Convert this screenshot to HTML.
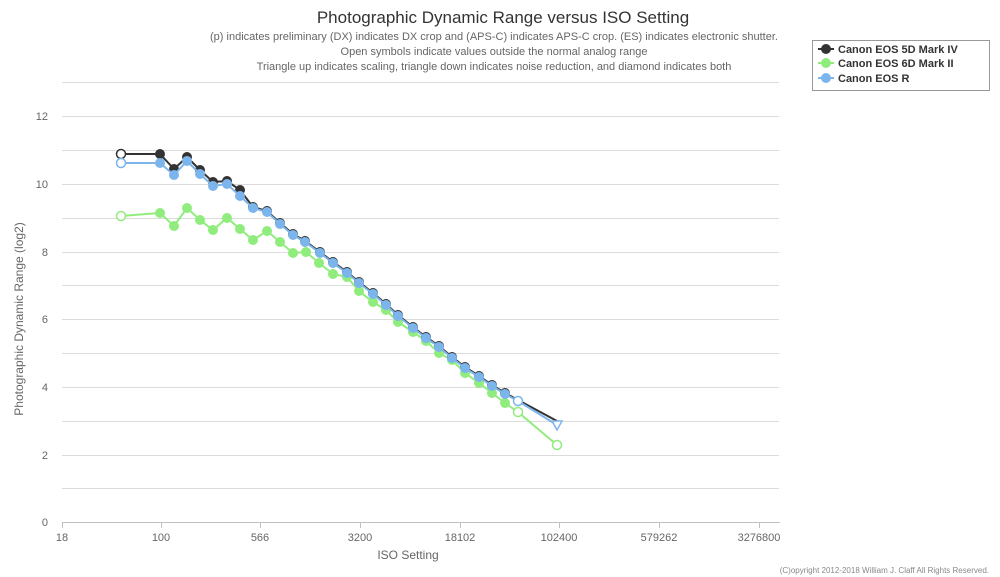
<!DOCTYPE html>
<html><head><meta charset="utf-8"><style>
html,body{margin:0;padding:0;background:#fff}
svg{display:block;font-family:"Liberation Sans Narrow","Liberation Sans",sans-serif}
</style></head><body>
<svg width="1000" height="577" viewBox="0 0 1000 577" xmlns="http://www.w3.org/2000/svg">
<text x="503" y="23" font-size="17" text-anchor="middle" fill="#333">Photographic Dynamic Range versus ISO Setting</text>
<g font-size="11" fill="#666" text-anchor="middle">
<text x="494" y="40">(p) indicates preliminary (DX) indicates DX crop and (APS-C) indicates APS-C crop. (ES) indicates electronic shutter.</text>
<text x="494" y="55">Open symbols indicate values outside the normal analog range</text>
<text x="494" y="70">Triangle up indicates scaling, triangle down indicates noise reduction, and diamond indicates both</text>
</g>
<g stroke="#dcdcdc" stroke-width="1">
<line x1="62" y1="82.5" x2="779" y2="82.5"/>
<line x1="62" y1="116.5" x2="779" y2="116.5"/>
<line x1="62" y1="150.5" x2="779" y2="150.5"/>
<line x1="62" y1="184.5" x2="779" y2="184.5"/>
<line x1="62" y1="218.5" x2="779" y2="218.5"/>
<line x1="62" y1="252.5" x2="779" y2="252.5"/>
<line x1="62" y1="285.5" x2="779" y2="285.5"/>
<line x1="62" y1="319.5" x2="779" y2="319.5"/>
<line x1="62" y1="353.5" x2="779" y2="353.5"/>
<line x1="62" y1="387.5" x2="779" y2="387.5"/>
<line x1="62" y1="421.5" x2="779" y2="421.5"/>
<line x1="62" y1="455.5" x2="779" y2="455.5"/>
<line x1="62" y1="488.5" x2="779" y2="488.5"/>
</g>
<g stroke="#c0c0c0"><line x1="62" y1="522.5" x2="780" y2="522.5"/>
<line x1="62.5" y1="522" x2="62.5" y2="528"/><line x1="161.5" y1="522" x2="161.5" y2="528"/><line x1="260.5" y1="522" x2="260.5" y2="528"/><line x1="360.5" y1="522" x2="360.5" y2="528"/><line x1="460.5" y1="522" x2="460.5" y2="528"/><line x1="559.5" y1="522" x2="559.5" y2="528"/><line x1="659.5" y1="522" x2="659.5" y2="528"/><line x1="759.5" y1="522" x2="759.5" y2="528"/></g>
<g font-size="11" fill="#666" text-anchor="end">
<text x="48" y="120">12</text><text x="48" y="188">10</text><text x="48" y="256">8</text><text x="48" y="323">6</text><text x="48" y="391">4</text><text x="48" y="459">2</text><text x="48" y="526">0</text>
</g>
<g font-size="11" fill="#666" text-anchor="middle">
<text x="62" y="541">18</text><text x="161" y="541">100</text><text x="260" y="541">566</text><text x="360" y="541">3200</text><text x="460" y="541">18102</text><text x="559" y="541">102400</text><text x="659" y="541">579262</text><text x="759" y="541">3276800</text>
<text x="408" y="559" font-size="12">ISO Setting</text>
</g>
<text x="989" y="573" font-size="8" fill="#888" text-anchor="end">(C)opyright 2012-2018 William J. Claff All Rights Reserved.</text>
<text transform="translate(23,319) rotate(-90)" font-size="12" fill="#666" text-anchor="middle">Photographic Dynamic Range (log2)</text>

<!-- Green 6D II -->
<polyline fill="none" stroke="#90ed7d" stroke-width="2" points="121,216 160,213 174,226 187,208 200,220 213,230 227,218 240,229 253,240 267,231 280,242 293,253 306,252 319,263 333,274 347,277 359,291 373,302 386,310 398,322 413,332 426,341 439,353 452,360 465,373 479,383 492,393 505,403 518,412 557,445"/>
<g fill="#90ed7d">
<circle cx="160" cy="213" r="5"/><circle cx="174" cy="226" r="5"/><circle cx="187" cy="208" r="5"/><circle cx="200" cy="220" r="5"/><circle cx="213" cy="230" r="5"/><circle cx="227" cy="218" r="5"/><circle cx="240" cy="229" r="5"/><circle cx="253" cy="240" r="5"/><circle cx="267" cy="231" r="5"/><circle cx="280" cy="242" r="5"/><circle cx="293" cy="253" r="5"/><circle cx="306" cy="252" r="5"/><circle cx="319" cy="263" r="5"/><circle cx="333" cy="274" r="5"/><circle cx="347" cy="277" r="5"/><circle cx="359" cy="291" r="5"/><circle cx="373" cy="302" r="5"/><circle cx="386" cy="310" r="5"/><circle cx="398" cy="322" r="5"/><circle cx="413" cy="332" r="5"/><circle cx="426" cy="341" r="5"/><circle cx="439" cy="353" r="5"/><circle cx="452" cy="360" r="5"/><circle cx="465" cy="373" r="5"/><circle cx="479" cy="383" r="5"/><circle cx="492" cy="393" r="5"/><circle cx="505" cy="403" r="5"/>
</g>
<g fill="#fff" stroke="#90ed7d" stroke-width="1.5"><circle cx="121" cy="216" r="4.5"/><circle cx="518" cy="412" r="4.5"/><circle cx="557" cy="445" r="4.5"/></g>

<!-- Black 5D IV -->
<polyline fill="none" stroke="#333" stroke-width="2" points="121,154 160,154 174,169 187,157 200,170 213,182 227,181 240,190 253,207 267,211 280,223 293,234 305,241 320,252 333,262 347,272 359,282 373,293 386,304 398,315 413,327 426,337 439,346 452,357 465,367 479,376 492,385 505,393 518,400 557,421"/>
<g fill="#333">
<circle cx="160" cy="154" r="5"/><circle cx="174" cy="169" r="5"/><circle cx="187" cy="157" r="5"/><circle cx="200" cy="170" r="5"/><circle cx="213" cy="182" r="5"/><circle cx="227" cy="181" r="5"/><circle cx="240" cy="190" r="5"/><circle cx="253" cy="207" r="5"/><circle cx="267" cy="211" r="5"/><circle cx="280" cy="223" r="5"/><circle cx="293" cy="234" r="5"/><circle cx="305" cy="241" r="5"/><circle cx="320" cy="252" r="5"/><circle cx="333" cy="262" r="5"/><circle cx="347" cy="272" r="5"/><circle cx="359" cy="282" r="5"/><circle cx="373" cy="293" r="5"/><circle cx="386" cy="304" r="5"/><circle cx="398" cy="315" r="5"/><circle cx="413" cy="327" r="5"/><circle cx="426" cy="337" r="5"/><circle cx="439" cy="346" r="5"/><circle cx="452" cy="357" r="5"/><circle cx="465" cy="367" r="5"/><circle cx="479" cy="376" r="5"/><circle cx="492" cy="385" r="5"/><circle cx="505" cy="393" r="5"/>
</g>
<g fill="#fff" stroke="#333" stroke-width="1.5"><circle cx="121" cy="154" r="4.5"/></g>

<!-- Blue R -->
<polyline fill="none" stroke="#7cb5ec" stroke-width="2" points="121,163 160,163 174,175 187,161 200,174 213,186 227,184 240,196 253,208 267,212 280,224 293,235 305,242 320,253 333,263 347,273 359,283 373,294 386,305 398,316 413,328 426,338 439,347 452,358 465,368 479,377 492,386 505,394 518,401 557,425"/>
<g fill="#7cb5ec">
<circle cx="160" cy="163" r="5"/><circle cx="174" cy="175" r="5"/><circle cx="187" cy="161" r="5"/><circle cx="200" cy="174" r="5"/><circle cx="213" cy="186" r="5"/><circle cx="227" cy="184" r="5"/><circle cx="240" cy="196" r="5"/><circle cx="253" cy="208" r="5"/><circle cx="267" cy="212" r="5"/><circle cx="280" cy="224" r="5"/><circle cx="293" cy="235" r="5"/><circle cx="305" cy="242" r="5"/><circle cx="320" cy="253" r="5"/><circle cx="333" cy="263" r="5"/><circle cx="347" cy="273" r="5"/><circle cx="359" cy="283" r="5"/><circle cx="373" cy="294" r="5"/><circle cx="386" cy="305" r="5"/><circle cx="398" cy="316" r="5"/><circle cx="413" cy="328" r="5"/><circle cx="426" cy="338" r="5"/><circle cx="439" cy="347" r="5"/><circle cx="452" cy="358" r="5"/><circle cx="465" cy="368" r="5"/><circle cx="479" cy="377" r="5"/><circle cx="492" cy="386" r="5"/><circle cx="505" cy="394" r="5"/>
</g>
<g fill="#fff" stroke="#7cb5ec" stroke-width="1.5"><circle cx="121" cy="163" r="4.5"/><circle cx="518" cy="401" r="4.5"/><polygon points="552,421 562,421 557,430"/></g>

<!-- Legend -->
<rect x="812.5" y="40.5" width="177" height="50" fill="#fff" stroke="#999"/>
<g font-size="11" font-weight="bold" fill="#333">
<line x1="818" y1="49" x2="834" y2="49" stroke="#333" stroke-width="2"/><circle cx="826" cy="49" r="5" fill="#333"/><text x="838" y="53">Canon EOS 5D Mark IV</text>
<line x1="818" y1="63" x2="834" y2="63" stroke="#90ed7d" stroke-width="2"/><circle cx="826" cy="63" r="5" fill="#90ed7d"/><text x="838" y="67">Canon EOS 6D Mark II</text>
<line x1="818" y1="78" x2="834" y2="78" stroke="#7cb5ec" stroke-width="2"/><circle cx="826" cy="78" r="5" fill="#7cb5ec"/><text x="838" y="82">Canon EOS R</text>
</g>
</svg>
</body></html>
